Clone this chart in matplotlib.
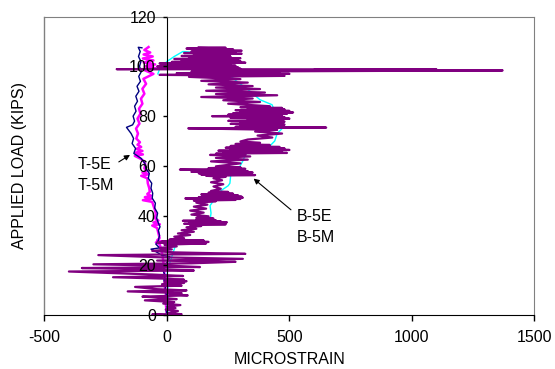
import matplotlib
matplotlib.use("Agg")
import matplotlib.pyplot as plt

plt.rcParams['font.family'] = ['Liberation Sans', 'DejaVu Sans']
plt.rcParams['font.size'] = 11.5
plt.rcParams['axes.unicode_minus'] = False

# T-5E (navy)
t5e_strain = [0, -3, 2, -5, -2, -8, -4, -12, -8, -16, -6, 5, 12, -20, -45, -65, -30, -45, -35,
              -30, -35, -28, -35, -42, -38, -50, -47, -60, -58, -65, -62, -76, -72, -86, -90,
              -105, -135, -128, -142, -136, -146, -165, -140, -132, -138, -126, -132, -120,
              -127, -114, -122, -108, -115, -104, -112, -106, -116, -109, -117, -102]
t5e_load = [0, 2, 4, 6, 8, 10, 12, 14, 16, 18, 20, 22, 23.5, 24, 25.5, 26.5, 27, 28.5, 30,
            32, 34, 35.5, 37, 39, 41, 43, 45, 47, 49, 51, 53, 55, 57, 59, 61,
            63, 65, 67, 69, 71, 73, 75.5, 76.5, 78, 80, 82, 84, 86,
            88, 90, 92, 94, 96, 98, 100, 102, 104, 106, 107.7, 107.5]

# T-5M (magenta)
t5m_strain = [0, -3, -6, -4, -10, -8, -12, -14, -18, -25, -30, -45, -20, -40, -30, -35, -40,
              -60, -29, -55, -35, -50, -45, -48, -55, -60, -98, -62, -90, -65, -80, -70,
              -72, -78, -80, -105, -75, -100, -80, -92, -88, -95, -110, -131, -98, -128,
              -100, -125, -105, -120, -110, -125, -118, -126, -112, -120, -108, -114, -100,
              -106, -92, -100, -85, -96, -55, -92, -40, -90, -48, -95, -55, -98, -58, -95,
              -68, -92, -75]
t5m_load = [0, 3, 6, 9, 12, 15, 18, 21, 24, 27, 28.5, 29.2, 29.6, 30, 31, 33, 35,
            36, 36.5, 37.2, 38, 39, 40.5, 42, 44, 45.5, 46.2, 46.8, 47.4, 48, 48.7, 49.5,
            51, 53, 55, 56, 56.6, 57.3, 58, 59, 60.5, 62, 63, 64, 64.6, 65.3,
            66, 66.8, 67.6, 68.5, 69.5, 71, 73, 75, 77, 79, 81, 83, 85,
            87, 89, 91, 93, 95, 97, 98.5, 99.2, 100, 100.8, 101.6, 102.4, 103.2, 104, 104.8,
            105.6, 106.6, 107.8]

# B-5E (cyan)
b5e_strain = [0, 4, 0, 6, 2, 8, 0, 5, 15, 25, 35, 53, 80, 100, 110, 176, 180, 176, 190,
              203, 220, 250, 257, 260, 298, 310, 323, 350, 380, 420, 440, 450, 470, 474,
              455, 440, 429, 380, 327, 286, 250, 200, 150, 106, 65, 30, 0, -30, -37]
b5e_load = [0, 1, 4, 7, 10, 13, 16, 19, 22, 25, 28, 31, 33, 35, 36.5, 38, 41, 44, 46,
            47, 50, 52, 53, 56, 59.8, 62, 65, 66, 67.5, 68, 70, 73, 75, 78,
            80, 82, 84.6, 86.6, 91, 93.9, 97, 101, 105.5, 105.7, 106, 104, 102, 99, 97]

# B-5M (purple)
b5m_strain = [0, -60, 60, 5, 45, -5, 35, 0, 55, -15, 30, -90, 40, -20, -100, 85, 10, 60, -160,
              80, -40,
              -130, 60, -20, 70, -10, 80, -5, 70, 0, -220, 66, -60, -400, 110, -30, -347, 135,
              20, -300, 100,
              280, -40, 310, -20, -280, 320, 30, -60, 20, -30, 40, -10, 160, -40, 170, -20,
              150, 10,
              70, 30, 95, 45, 110, 60, 120, 80, 140,
              95, 240, 70, 230, 90, 245, 110, 220, 65, 200, 120, 190, 120, 170,
              100, 150, 95, 160, 110, 165, 120, 200,
              110, 280, 120, 300, 75, 310, 130, 305, 150, 290, 140, 270, 170, 250, 180,
              220, 190, 230, 180, 225, 190, 240,
              160, 360, 140, 340, 130, 350, 100, 330, 53, 320, 170, 300, 200,
              300, 180, 330, 200, 340,
              176, 320, 200, 490, 230, 470, 210, 500, 260, 480, 240, 460, 260, 420, 280, 380,
              300,
              330, 430, 370, 470, 360, 450,
              87, 650, 280, 470, 300, 480, 260, 450, 300, 480, 250, 470, 330, 500, 260, 480,
              184, 470, 250, 490, 270, 515, 300, 500, 280, 480, 330, 470, 300, 420,
              250, 380, 230, 350, 140, 450, 200, 400, 160, 380, 200, 350, 170, 330, 140, 300,
              90, 480, -30, 500, 40, 460, 100, 1370, 600, 1100, -205, 300, 40, 290,
              -40, 280, 0, 260, -30, 320, 20, 300, 60, 290, 30, 300, 90, 260, 60, 255,
              110, 305, 70, 280, 100, 305, 120, 270, 80, 240, 130]
b5m_load = [0, 0.2, 0.3, 0.8, 1.6, 2.2, 2.8, 3.4, 4.0, 4.6, 5.2, 5.9, 6.4, 6.9, 7.4, 7.9, 8.4,
            8.8, 9.5, 9.9, 10.4,
            11.3, 11.8, 12.4, 12.9, 13.3, 13.6, 13.9, 14.2, 14.6, 15.2, 15.7, 16.3, 17.5,
            17.9, 18.3, 18.9, 19.3, 19.8, 20.4, 20.8,
            21.4, 21.9, 22.6, 23.2, 24.1, 24.6, 25.2, 25.8, 26.4, 27.0, 27.6, 28.3, 28.8,
            29.1, 29.4, 29.7, 30.0, 30.3,
            30.9, 31.5, 32.2, 32.8, 33.5, 34.1, 34.7, 35.3, 35.8,
            36.2, 36.5, 36.7, 36.9, 37.1, 37.3, 37.5, 37.7, 37.9, 38.1, 38.4, 38.8, 39.1, 39.7,
            40.4, 41.2, 42.0, 42.8, 43.6, 44.4, 45.2, 45.8,
            46.0, 46.3, 46.5, 46.7, 46.9, 47.2, 47.4, 47.6, 47.9, 48.2, 48.5, 48.8, 49.2,
            49.5, 49.9,
            50.8, 51.7, 52.6, 53.4, 54.2, 55.0, 55.6,
            56.0, 56.3, 56.5, 56.8, 57.0, 57.3, 57.6, 57.9, 58.5, 58.8, 59.1, 59.4, 59.8,
            61.0, 61.8, 62.5, 63.2, 63.8,
            64.4, 64.6, 64.9, 65.2, 65.5, 65.8, 66.1, 66.4, 66.7, 67.0, 67.3, 67.6, 68.0,
            68.4, 68.8, 69.3, 69.8,
            70.6, 71.4, 72.2, 73.0, 73.8, 74.5,
            75.1, 75.4, 75.7, 76.0, 76.3, 76.6, 76.9, 77.2, 77.5, 77.8, 78.1, 78.4, 78.7,
            79.0, 79.3, 79.6,
            80.0, 80.3, 80.6, 80.9, 81.2, 81.5, 81.8, 82.1, 82.4, 82.7, 83.0, 83.3, 83.6,
            84.0,
            85.0, 85.7, 86.4, 87.1, 87.7, 88.4, 88.9, 89.5, 90.2, 90.9, 91.5, 92.1, 92.8,
            93.5, 94.2, 94.9,
            95.8, 96.2, 96.6, 97.0, 97.3, 97.6, 97.9, 98.4, 98.6, 98.8, 98.9, 99.1, 99.4, 99.7,
            100.0, 100.3, 100.6, 100.9, 101.2, 101.5, 101.8, 102.1, 102.4, 102.7, 103.0,
            103.3, 103.6, 103.9, 104.2, 104.5,
            104.8, 105.1, 105.4, 105.7, 106.0, 106.3, 106.6, 106.9, 107.2, 107.5, 107.7]

x_ticks = [-500, 0, 500, 1000, 1500]
y_ticks = [0, 20, 40, 60, 80, 100, 120]

fig = plt.figure(figsize=(5.55, 3.69), dpi=100)
ax = fig.add_axes([0.080, 0.1463, 0.883, 0.8084])

ax.plot(t5m_strain, t5m_load, color='#FF00FF', lw=1.8)
ax.plot(t5e_strain, t5e_load, color='#000080', lw=1.0)
ax.plot(b5e_strain, b5e_load, color='#00FFFF', lw=1.0)
ax.plot(b5m_strain, b5m_load, color='#800080', lw=1.6)

ax.set_xlim(-500, 1500)
ax.set_ylim(0, 120)
ax.set_xticks(x_ticks)
ax.set_yticks(y_ticks)

# y axis drawn through zero, grey frame around the plot area
ax.spines['left'].set_position(('data', 0))
ax.spines['left'].set_color('black')
ax.spines['bottom'].set_color('black')
for s in ['top', 'right']:
    ax.spines[s].set_color('#808080')
ax.axvline(-500, color='#808080', lw=1.0, clip_on=False)
ax.set_axisbelow(False)
ax.tick_params(axis='x', direction='out', length=4, width=1, pad=7)
ax.tick_params(axis='y', direction='out', length=3, width=1, pad=5)

ax.set_xlabel('MICROSTRAIN')
ax.xaxis.set_label_coords(0.5, -0.125)
ax.set_ylabel('APPLIED LOAD (KIPS)')
ax.yaxis.set_label_coords(-0.035, 0.5)

ax.annotate('', xy=(-141, 65), xytext=(-206, 61),
            arrowprops=dict(arrowstyle='-|>', color='black', lw=0.8, mutation_scale=8))
ax.text(-364, 60.4, 'T-5E', ha='left', va='center')
ax.text(-364, 52.3, 'T-5M', ha='left', va='center')

ax.annotate('', xy=(345, 55.6), xytext=(515, 41.6),
            arrowprops=dict(arrowstyle='-|>', color='black', lw=0.8, mutation_scale=8))
ax.text(531, 39.5, 'B-5E', ha='left', va='center')
ax.text(531, 31.2, 'B-5M', ha='left', va='center')

fig.savefig('out.png', dpi=100)
